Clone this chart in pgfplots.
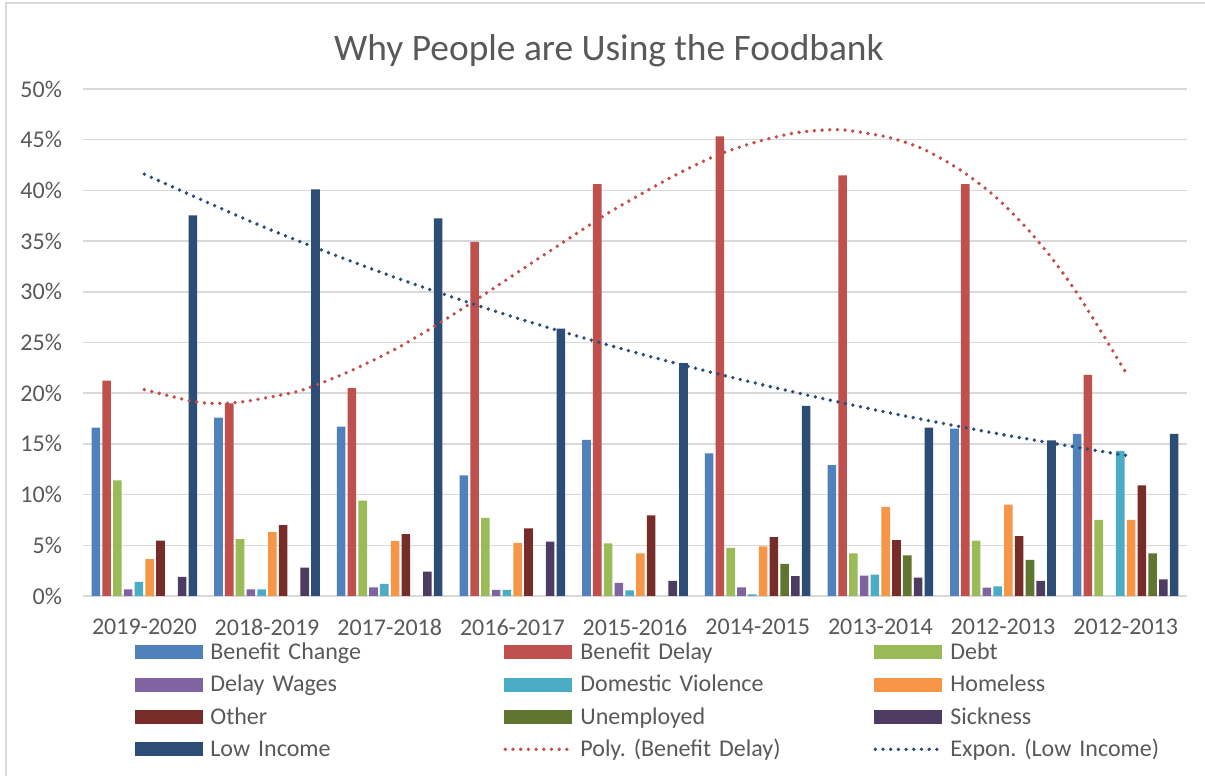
\documentclass[border=0pt]{standalone}
\usepackage{pgfplots}
\pgfplotsset{compat=1.18}
\usepackage{pgfplotstable}
\usepackage{fontspec}
\setmainfont{Carlito}
\frenchspacing
\definecolor{txt}{HTML}{595959}
\definecolor{gridc}{HTML}{D9D9D9}
\definecolor{cBC}{HTML}{4F81BD}
\definecolor{cBD}{HTML}{C0504D}
\definecolor{cDebt}{HTML}{9BBB59}
\definecolor{cDW}{HTML}{8064A2}
\definecolor{cDV}{HTML}{4BACC6}
\definecolor{cHom}{HTML}{F79646}
\definecolor{cOth}{HTML}{772C2A}
\definecolor{cUne}{HTML}{5F7530}
\definecolor{cSic}{HTML}{4D3B62}
\definecolor{cLI}{HTML}{2C4D75}

\pgfplotsset{
  barleg/.style={legend image code/.code={\fill[##1] (0pt,-3.5pt) rectangle (34pt,3.5pt);}},
  dotleg/.style={legend image code/.code={\draw[##1] (0.9pt,0pt) -- (34pt,0pt);}},
  trend/.style={draw=#1, line width=1.9pt, dash pattern=on 0pt off 3.85pt, line cap=round, smooth, mark=none, dotleg},
  mybar/.style 2 args={ybar, bar width=4.3pt, bar shift=#1, fill=#2, draw=none},
}

\pgfplotstableread{
i BC BD Debt DW DV Hom Oth Une Sic LI
0 16.6 21.25 11.4 0.66 1.39 3.63 5.45 nan 1.88 37.53
1 17.6 19.0 5.6 0.66 0.66 6.3 7.0 nan 2.8 40.1
2 16.7 20.5 9.4 0.86 1.19 5.4 6.1 nan 2.4 37.24
3 11.9 34.93 7.7 0.6 0.6 5.25 6.67 nan 5.35 26.38
4 15.4 40.63 5.2 1.29 0.56 4.2 7.95 nan 1.5 22.97
5 14.06 45.33 4.75 0.86 0.17 4.9 5.8 3.17 1.95 18.75
6 12.9 41.48 4.2 2.0 2.1 8.8 5.5 4.0 1.8 16.6
7 16.5 40.63 5.45 0.83 0.96 9.0 5.9 3.56 1.5 15.35
8 16.0 21.8 7.5 nan 14.3 7.5 10.9 4.2 1.65 16.0
}\data

\begin{document}
\begin{tikzpicture}
\useasboundingbox (0,0) rectangle (602.5pt,388pt);
\fill[white] (0,0) rectangle (602.5pt,388pt);
\draw[gridc, line width=0.75pt] (3pt,0pt) -- (3pt,386.5pt) -- (602.5pt,386.5pt);
\begin{axis}[
  at={(41.5pt,90pt)}, anchor=south west,
  scale only axis, width=552pt, height=253.5pt,
  xmin=-0.5, xmax=8.5, ymin=0, ymax=50,
  xtick={0,1,2,3,4,5,6,7,8},
  xticklabels={2019-2020,2018-2019,2017-2018,2016-2017,2015-2016,2014-2015,2013-2014,2012-2013,2012-2013},
  ytick={0,5,10,15,20,25,30,35,40,45,50},
  yticklabels={0\%,5\%,10\%,15\%,20\%,25\%,30\%,35\%,40\%,45\%,50\%},
  ymajorgrids, major grid style={draw=gridc, line width=0.75pt},
  axis line style={draw=none}, major tick length=0pt,
  tick label style={font=\fontsize{12}{14}\selectfont, text=txt},
  xticklabel style={anchor=center, yshift=-15.5pt},
  yticklabel style={anchor=east, xshift=-7pt},
  title={Why People are Using the Foodbank},
  title style={at={(0.4764,1.0514)}, anchor=center, font=\fontsize{18.7}{22}\selectfont, text=txt},
  legend columns=3,
  legend cell align=left,
  legend style={at={(0.0471,-0.0868)}, anchor=north west, draw=none, fill=none, inner sep=0pt,
    font=\fontsize{12}{14}\selectfont, text=txt, row sep=4.15pt,
    nodes={text width=138.5pt, inner xsep=0pt, inner ysep=0pt, text height=9.5pt, text depth=2.5pt, align=left},
    /tikz/every odd column/.append style={column sep=3.5pt},
    /tikz/every even column/.append style={column sep=8pt}},
  barleg,
]
\addplot[mybar={-24.255pt}{cBC}] table[x=i,y=BC]{\data};
\addlegendentry{Benefit Change}
\addplot[mybar={-18.865pt}{cBD}] table[x=i,y=BD]{\data};
\addlegendentry{Benefit Delay}
\addplot[mybar={-13.475pt}{cDebt}] table[x=i,y=Debt]{\data};
\addlegendentry{Debt}
\addplot[mybar={-8.085pt}{cDW}] table[x=i,y=DW]{\data};
\addlegendentry{Delay Wages}
\addplot[mybar={-2.695pt}{cDV}] table[x=i,y=DV]{\data};
\addlegendentry{Domestic Violence}
\addplot[mybar={2.695pt}{cHom}] table[x=i,y=Hom]{\data};
\addlegendentry{Homeless}
\addplot[mybar={8.085pt}{cOth}] table[x=i,y=Oth]{\data};
\addlegendentry{Other}
\addplot[mybar={13.475pt}{cUne}] table[x=i,y=Une]{\data};
\addlegendentry{Unemployed}
\addplot[mybar={18.865pt}{cSic}] table[x=i,y=Sic]{\data};
\addlegendentry{Sickness}
\addplot[mybar={24.255pt}{cLI}] table[x=i,y=LI]{\data};
\addlegendentry{Low Income}
\addplot[trend=cBD] coordinates {
(0,20.36) (0.4,19.18) (0.6,19.0) (0.8,19.15) (1.2,20.03) (1.39,20.76) (1.7,22.3) (2.06,24.44)
(2.41,26.94) (2.8,29.97) (3.14,32.7) (3.48,35.4) (3.76,37.6) (4.05,39.64) (4.35,41.64)
(4.66,43.42) (4.96,44.67) (5.3,45.66) (5.63,46.0) (5.83,45.76) (6.09,45.16) (6.35,44.08)
(6.64,42.1) (6.91,39.67) (7.15,36.84) (7.37,33.75) (7.57,30.46) (7.75,27.07) (7.89,24.27) (8,22.07)};
\addlegendentry{Poly. (Benefit Delay)}
\addplot[trend=cLI] coordinates {
(0,41.6) (1,36.26) (2,31.61) (3,27.55) (4,24.02) (5,20.94) (6,18.25) (7,15.91) (8,13.87)};
\addlegendentry{Expon. (Low Income)}
\end{axis}
\end{tikzpicture}
\end{document}
